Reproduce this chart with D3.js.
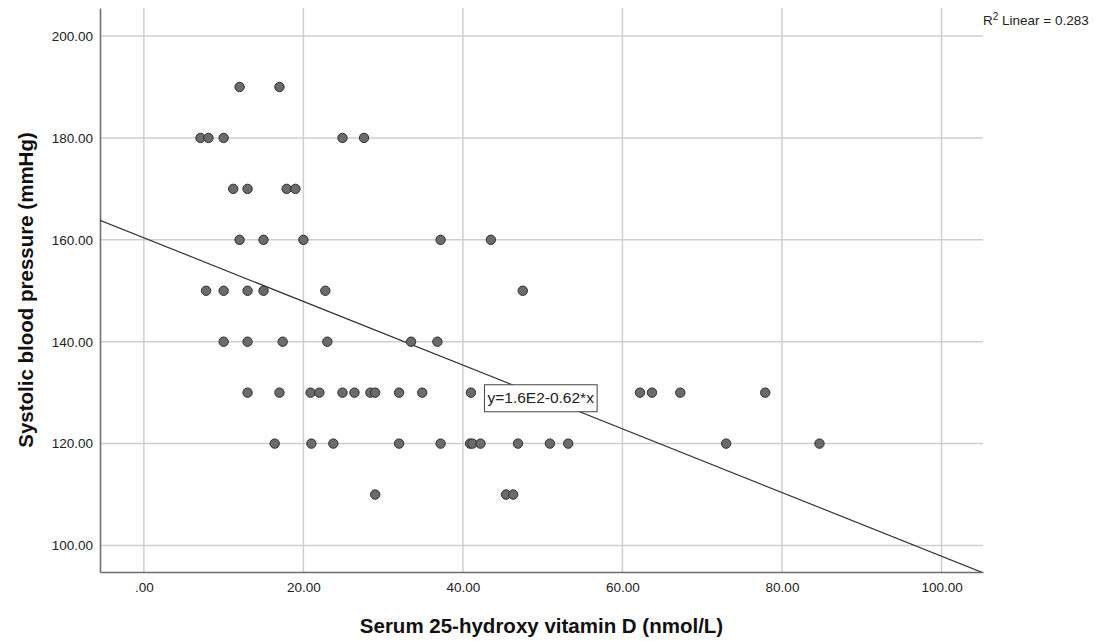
<!DOCTYPE html>
<html>
<head>
<meta charset="utf-8">
<script src="https://cdn.jsdelivr.net/npm/d3@7"></script>
<style>
  body { margin: 0; background: #fff; }
  svg { display: block; font-family: "Liberation Sans", Arial, sans-serif; }
</style>
</head>
<body>
<div id="vis"></div>
<script>
// vitamin D (nmol/L) and systolic BP (mmHg)
var vitD = [
  12, 17,
  7.1, 8.1, 10, 24.9, 27.6,
  11.2, 13, 17.9, 19,
  12, 15, 20, 37.2, 43.5,
  7.8, 10, 13, 15, 22.75, 47.5,
  10, 13, 17.4, 23, 33.5, 36.8,
  13, 17, 20.9, 22, 24.9, 26.4, 28.4, 29, 32, 34.9, 41, 62.2, 63.7, 67.25, 77.9,
  16.4, 21, 23.75, 32, 37.2, 40.9, 41.2, 42.2, 46.9, 50.9, 53.2, 73, 84.7,
  29, 45.4, 46.3
];
var sbp = [
  190, 190,
  180, 180, 180, 180, 180,
  170, 170, 170, 170,
  160, 160, 160, 160, 160,
  150, 150, 150, 150, 150, 150,
  140, 140, 140, 140, 140, 140,
  130, 130, 130, 130, 130, 130, 130, 130, 130, 130, 130, 130, 130, 130, 130,
  120, 120, 120, 120, 120, 120, 120, 120, 120, 120, 120, 120, 120,
  110, 110, 110
];
var xTicks = [0, 20, 40, 60, 80, 100];
var yTicks = [100, 120, 140, 160, 180, 200];
var fitIntercept = 160.4;
var fitSlope = -0.625;
var fitLabel = "y=1.6E2-0.62*x";
var fitLabelAt = [42.7, 129];
var r2Text = "0.283";

var width = 1102, height = 641;
var m = { left: 100, right: 119, top: 8, bottom: 69 };

var svg = d3.select("#vis").append("svg")
    .attr("width", width)
    .attr("height", height);

var x = d3.scaleLinear().domain([-5.5, 105.2]).range([m.left, width - m.right]);
var y = d3.scaleLinear().domain([94.8, 205.5]).range([height - m.bottom, m.top]);

var fmt = function (v) { return v === 0 ? ".00" : d3.format(".2f")(v); };

// grid
svg.append("g").selectAll("line").data(xTicks).join("line")
    .attr("x1", d => x(d)).attr("x2", d => x(d))
    .attr("y1", y.range()[0]).attr("y2", y.range()[1])
    .attr("stroke", "#cfcfcf").attr("stroke-width", 1.5);
svg.append("g").selectAll("line").data(yTicks).join("line")
    .attr("x1", x.range()[0]).attr("x2", x.range()[1])
    .attr("y1", d => y(d)).attr("y2", d => y(d))
    .attr("stroke", "#cfcfcf").attr("stroke-width", 1.5);

// axes
var xAxis = svg.append("g")
    .attr("transform", "translate(0," + y.range()[0] + ")")
    .call(d3.axisBottom(x).tickValues(xTicks).tickFormat(fmt).tickSize(0).tickPadding(10));
var yAxis = svg.append("g")
    .attr("transform", "translate(" + x.range()[0] + ",0)")
    .call(d3.axisLeft(y).tickValues(yTicks).tickFormat(fmt).tickSize(0).tickPadding(7));
[xAxis, yAxis].forEach(function (a) {
  a.select(".domain").attr("stroke", "#6e6e6e").attr("stroke-width", 1.6);
  a.selectAll("text")
    .attr("fill", "#222")
    .style("font-size", "13.5px")
    .style("font-family", "'Liberation Sans', Arial, sans-serif");
});

// fit line
svg.append("clipPath").attr("id", "plotclip").append("rect")
    .attr("x", x.range()[0]).attr("y", y.range()[1])
    .attr("width", x.range()[1] - x.range()[0])
    .attr("height", y.range()[0] - y.range()[1]);
var xd = x.domain();
svg.append("line")
    .attr("clip-path", "url(#plotclip)")
    .attr("x1", x(xd[0])).attr("y1", y(fitIntercept + fitSlope * xd[0]))
    .attr("x2", x(xd[1])).attr("y2", y(fitIntercept + fitSlope * xd[1]))
    .attr("stroke", "#333").attr("stroke-width", 1.2);

// points
svg.append("g").selectAll("circle").data(vitD).join("circle")
    .attr("cx", d => x(d))
    .attr("cy", (d, i) => y(sbp[i]))
    .attr("r", 4.7)
    .attr("fill", "#6b6b6b")
    .attr("stroke", "#2f2f2f")
    .attr("stroke-width", 1);

// equation label
var lab = svg.append("g")
    .attr("transform", "translate(" + x(fitLabelAt[0]) + "," + y(fitLabelAt[1]) + ")");
var labText = lab.append("text")
    .attr("x", 3).attr("y", 5.5)
    .style("font-size", "15.5px")
    .attr("fill", "#222")
    .text(fitLabel);
var bb = labText.node().getBBox();
lab.insert("rect", "text")
    .attr("x", 0).attr("y", -13)
    .attr("width", bb.width + 6).attr("height", 27)
    .attr("fill", "#fff").attr("stroke", "#444").attr("stroke-width", 1);

// R squared
var r2 = svg.append("text")
    .attr("x", x.range()[1]).attr("y", 25)
    .style("font-size", "13.5px")
    .attr("fill", "#222");
r2.append("tspan").text("R");
r2.append("tspan").attr("dy", -5).style("font-size", "10px").text("2");
r2.append("tspan").attr("dy", 5).text(" Linear = " + r2Text);

// titles
svg.append("text")
    .attr("x", (x.range()[0] + x.range()[1]) / 2)
    .attr("y", 633)
    .attr("text-anchor", "middle")
    .style("font-size", "20.5px").style("font-weight", "bold")
    .attr("fill", "#111")
    .text("Serum 25-hydroxy vitamin D (nmol/L)");
svg.append("text")
    .attr("transform", "translate(33," + (y.range()[0] + y.range()[1]) / 2 + ") rotate(-90)")
    .attr("text-anchor", "middle")
    .style("font-size", "20.5px").style("font-weight", "bold")
    .attr("fill", "#111")
    .text("Systolic blood pressure (mmHg)");
</script>
</body>
</html>
